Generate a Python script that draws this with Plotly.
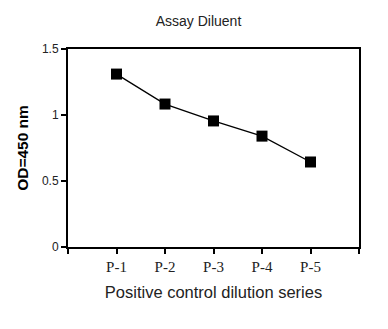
import plotly.graph_objects as go

categories = ["P-1", "P-2", "P-3", "P-4", "P-5"]
od_values = [1.31, 1.083, 0.955, 0.84, 0.644]
y_ticks = [0, 0.5, 1, 1.5]
y_tick_labels = ["0", "0.5", "1", "1.5"]

x_idx = list(range(len(categories)))

fig = go.Figure()
fig.add_trace(go.Scatter(
    x=x_idx, y=od_values, mode="lines+markers",
    line=dict(color="black", width=1.3),
    marker=dict(symbol="square", size=11, color="black"),
    showlegend=False,
))

fig.update_layout(
    width=388, height=329,
    margin=dict(l=68, r=29, t=49, b=82),
    plot_bgcolor="white", paper_bgcolor="white",
    title=dict(text="Assay Diluent", x=198.5/388, xanchor="center", y=1 - 21/329, yanchor="middle",
               font=dict(family="Liberation Sans, Arial", size=14, color="#222")),
    xaxis=dict(
        range=[-1, len(categories)],
        tickvals=[-1] + x_idx + [len(categories)],
        ticktext=[""] + categories + [""],
        ticks="outside", ticklen=5, tickwidth=2, tickcolor="black",
        showline=True, linecolor="black", linewidth=2, mirror=True,
        showgrid=False, zeroline=False,
        tickfont=dict(family="Liberation Serif, Times New Roman", size=15, color="#222"),
        title=dict(text="Positive control dilution series", standoff=12,
                   font=dict(family="Liberation Sans, Arial", size=16.5, color="#222")),
    ),
    yaxis=dict(
        range=[0, 1.5],
        tickvals=y_ticks, ticktext=y_tick_labels,
        ticks="outside", ticklen=5, tickwidth=2, tickcolor="black",
        showline=True, linecolor="black", linewidth=2, mirror=True,
        showgrid=False, zeroline=False,
        tickfont=dict(family="Liberation Sans, Arial", size=12, color="#222"),
        title=dict(text="<b>OD=450 nm</b>", standoff=9,
                   font=dict(family="Liberation Sans, Arial", size=15.5, color="black")),
    ),
)

fig.write_html("out.html")
